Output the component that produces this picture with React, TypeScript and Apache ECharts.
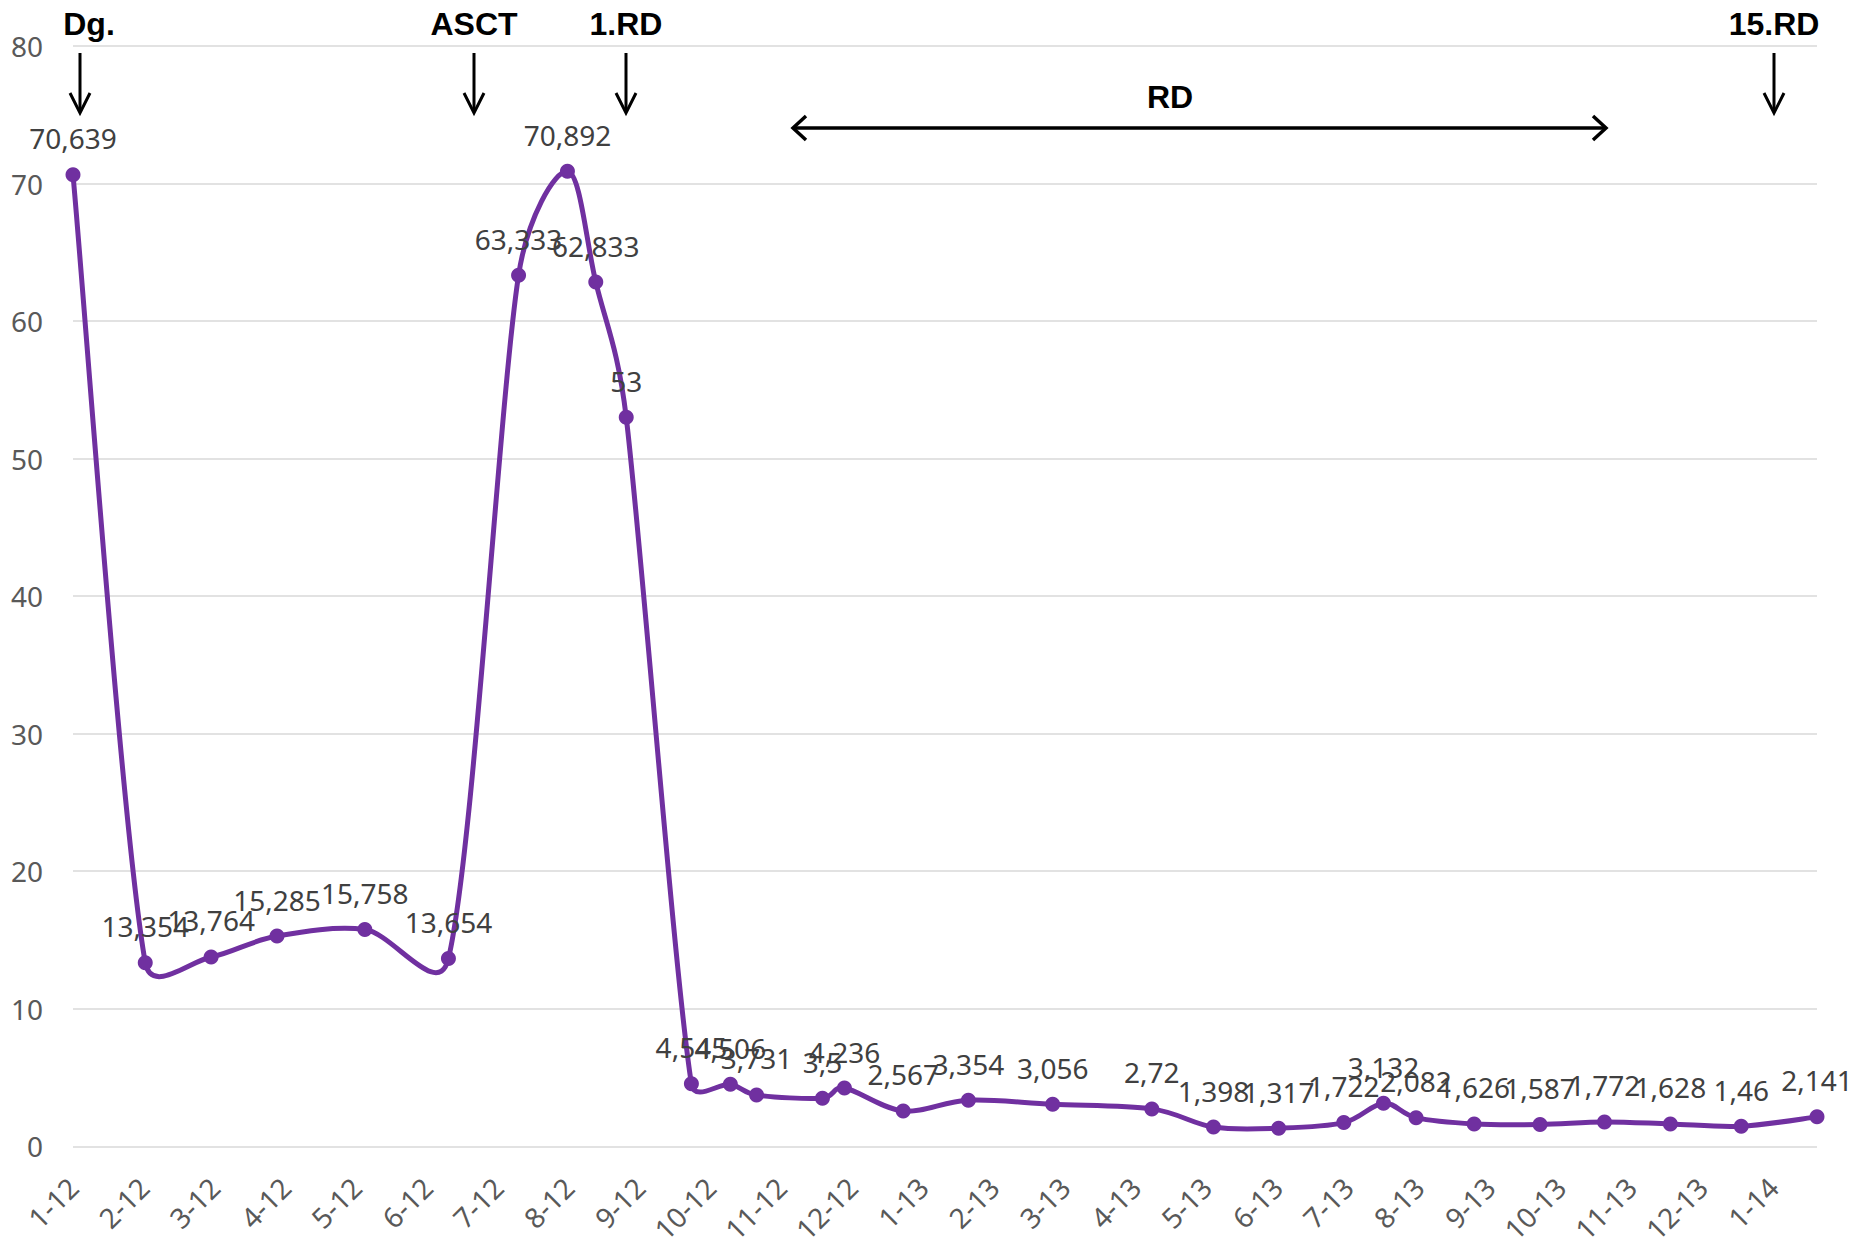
import React, { useEffect, useRef } from "react";
import * as echarts from "echarts";

// Tick labels (month-year) along the time axis
const tickLabels = [
  "1-12", "2-12", "3-12", "4-12", "5-12", "6-12", "7-12", "8-12", "9-12", "10-12", "11-12", "12-12",
  "1-13", "2-13", "3-13", "4-13", "5-13", "6-13", "7-13", "8-13", "9-13", "10-13", "11-13", "12-13",
  "1-14",
];

const monthPos = [
  0, 1.02, 1.95, 2.88, 4.12, 5.3, 6.29, 6.98, 7.38, 7.81,
  8.73, 9.28, 9.65, 10.58, 10.89, 11.72, 12.64, 13.83, 15.23, 16.1,
  17.02, 17.94, 18.5, 18.96, 19.78, 20.71, 21.62, 22.55, 23.55, 24.62,
];

// Measured values
const values = [
  70.639, 13.354, 13.764, 15.285, 15.758, 13.654, 63.333, 70.892, 62.833, 53,
  4.545, 4.506, 3.731, 3.5, 4.236, 2.567, 3.354, 3.056, 2.72, 1.398,
  1.317, 1.722, 3.132, 2.082, 1.626, 1.587, 1.772, 1.628, 1.46, 2.141,
];

// Annotation labels
const eventLabels = ["Dg.", "ASCT", "1.RD", "15.RD"];
const periodLabel = "RD";

const PURPLE = "#7030A0";
const FONT = "'Noto Sans', 'Open Sans', sans-serif";
const BOLD_FONT = "'Liberation Sans', Arial, sans-serif";

function downArrow(x: number) {
  return [
    {
      type: "line",
      shape: { x1: x, y1: 53, x2: x, y2: 112 },
      style: { stroke: "#000", lineWidth: 3 },
    },
    {
      type: "polyline",
      shape: { points: [[x - 10, 93], [x, 113], [x + 10, 93]] },
      style: { stroke: "#000", lineWidth: 3, fill: null },
    },
  ];
}

export default function App() {
  const ref = useRef<HTMLDivElement>(null);

  useEffect(() => {
    document.body.style.margin = "0";
    if (!ref.current) return;
    const chart = echarts.init(ref.current, undefined, { renderer: "svg" });
    const n = values.length;

    const eventX = [80, 474, 626, 1774];
    const graphics: any[] = [];
    eventLabels.forEach((t, i) => {
      const x = eventX[i];
      graphics.push({
        type: "text",
        x: i === 0 ? x + 9 : x,
        y: 24,
        style: {
          text: t,
          fill: "#000",
          font: `bold 32px ${BOLD_FONT}`,
          textAlign: "center",
          textVerticalAlign: "middle",
        },
      });
      graphics.push(...downArrow(x));
    });
    graphics.push({
      type: "text",
      x: 1170,
      y: 97,
      style: {
        text: periodLabel,
        fill: "#000",
        font: `bold 32px ${BOLD_FONT}`,
        textAlign: "center",
        textVerticalAlign: "middle",
      },
    });
    graphics.push(
      {
        type: "line",
        shape: { x1: 793, y1: 128, x2: 1606, y2: 128 },
        style: { stroke: "#000", lineWidth: 3.5 },
      },
      {
        type: "polyline",
        shape: { points: [[806, 116], [793, 128], [806, 140]] },
        style: { stroke: "#000", lineWidth: 3.5, fill: null },
      },
      {
        type: "polyline",
        shape: { points: [[1593, 116], [1606, 128], [1593, 140]] },
        style: { stroke: "#000", lineWidth: 3.5, fill: null },
      }
    );

    const pts = monthPos.map((x, i) => [x, values[i]]);

    // Excel-like smoothed segment: control offsets = min(|chord|/6, segment/2)
    const renderSegment = (params: any, api: any) => {
      const i = params.dataIndex;
      if (i >= n - 1) return null;
      const P = (k: number) => {
        const kk = Math.max(0, Math.min(n - 1, k));
        return api.coord(pts[kk]);
      };
      const p0 = P(i - 1), p1 = P(i), p2 = P(i + 1), p3 = P(i + 2);
      const dist = (a: number[], b: number[]) => Math.hypot(b[0] - a[0], b[1] - a[1]);
      const d12 = dist(p1, p2);
      const v1 = [p2[0] - p0[0], p2[1] - p0[1]];
      const l1 = Math.hypot(v1[0], v1[1]) || 1;
      const o1 = Math.min(l1 / 6, d12 / 2);
      const v2 = [p3[0] - p1[0], p3[1] - p1[1]];
      const l2 = Math.hypot(v2[0], v2[1]) || 1;
      const o2 = Math.min(l2 / 6, d12 / 2);
      return {
        type: "bezierCurve",
        silent: true,
        shape: {
          x1: p1[0],
          y1: p1[1],
          x2: p2[0],
          y2: p2[1],
          cpx1: p1[0] + (v1[0] / l1) * o1,
          cpy1: p1[1] + (v1[1] / l1) * o1,
          cpx2: p2[0] - (v2[0] / l2) * o2,
          cpy2: p2[1] - (v2[1] / l2) * o2,
        },
        style: { stroke: PURPLE, lineWidth: 5, fill: null, lineCap: "round" },
      };
    };

    chart.setOption({
      animation: false,
      backgroundColor: "#fff",
      grid: { left: 73, right: 41, top: 46, bottom: 96, containLabel: false },
      xAxis: {
        type: "value",
        min: 0,
        max: monthPos[monthPos.length - 1],
        interval: 1,
        axisLine: { show: false },
        axisTick: { show: false },
        splitLine: { show: false },
        axisLabel: {
          rotate: 45,
          margin: 36,
          showMaxLabel: false,
          color: "#595959",
          fontSize: 28,
          fontFamily: FONT,
          formatter: (v: number) => tickLabels[Math.round(v)] ?? "",
        },
      },
      yAxis: {
        type: "value",
        min: 0,
        max: 80,
        interval: 10,
        axisLine: { show: false },
        axisTick: { show: false },
        splitLine: { lineStyle: { color: "#D9D9D9", width: 1.5 } },
        axisLabel: {
          margin: 30,
          color: "#595959",
          fontSize: 28,
          fontFamily: FONT,
        },
      },
      series: [
        {
          type: "custom",
          data: pts,
          encode: { x: 0, y: 1 },
          renderItem: renderSegment,
          clip: false,
          z: 2,
        },
        {
          type: "line",
          data: pts,
          symbol: "circle",
          symbolSize: 15,
          itemStyle: { color: PURPLE },
          lineStyle: { opacity: 0, width: 0 },
          z: 3,
          label: {
            show: true,
            position: "top",
            distance: 15,
            color: "#404040",
            fontSize: 28,
            fontFamily: FONT,
            formatter: (p: any) => String(p.value[1]).replace(".", ","),
          },
        },
      ],
      graphic: graphics,
    });

    return () => chart.dispose();
  }, []);

  return <div ref={ref} style={{ width: 1858, height: 1246 }} />;
}
